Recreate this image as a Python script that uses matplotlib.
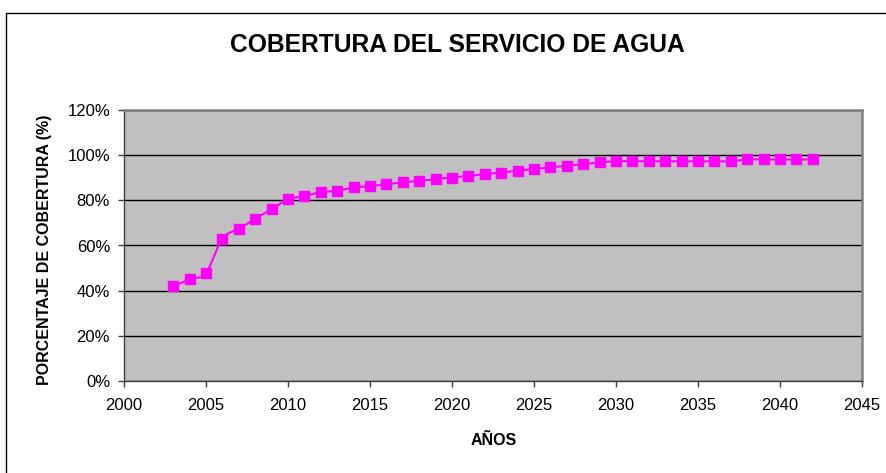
import numpy as np
import matplotlib
matplotlib.use("Agg")
import matplotlib.pyplot as plt
from matplotlib.patches import Rectangle
from matplotlib.ticker import FuncFormatter, MultipleLocator

plt.rcParams['font.family'] = ['Liberation Sans', 'DejaVu Sans']

years = list(range(2003, 2043))
coverage = [42, 45, 48, 63, 67.4, 71.8, 76.1, 80.4, 82, 83.6, 84.2, 85.7,
            86.3, 87.2, 87.9, 88.6, 89.4, 90.1, 90.8, 91.6, 92.3, 93.1, 93.8,
            94.6, 95.3, 96.0, 96.8,
            97.3, 97.3, 97.3, 97.3, 97.3, 97.3, 97.3, 97.3,
            98.1, 98.1, 98.1, 98.1, 98.1]
title = "COBERTURA DEL SERVICIO DE AGUA"
xlabel = "AÑOS"
ylabel = "PORCENTAJE DE COBERTURA (%)"


def smooth(x, y, n=12):
    # Catmull-Rom style smoothing (like Excel's smoothed line)
    x = np.asarray(x, float); y = np.asarray(y, float)
    px = np.concatenate([[2 * x[0] - x[1]], x, [2 * x[-1] - x[-2]]])
    py = np.concatenate([[2 * y[0] - y[1]], y, [2 * y[-1] - y[-2]]])
    xs, ys = [], []
    t = np.linspace(0, 1, n, endpoint=False)
    for i in range(1, len(px) - 2):
        for arr, out in ((px, xs), (py, ys)):
            p0, p1, p2, p3 = arr[i - 1], arr[i], arr[i + 1], arr[i + 2]
            c = 0.5 * ((2 * p1) + (-p0 + p2) * t + (2 * p0 - 5 * p1 + 4 * p2 - p3) * t ** 2
                       + (-p0 + 3 * p1 - 3 * p2 + p3) * t ** 3)
            out.extend(c)
    xs.append(x[-1]); ys.append(y[-1])
    return np.array(xs), np.array(ys)


W, H = 887, 473
fig = plt.figure(figsize=(W / 100, H / 100), dpi=100)
fig.patch.set_facecolor('white')
fig.add_artist(Rectangle((6.5 / W, -0.01), (W) / W, (H - 13) / H + 0.01, transform=fig.transFigure,
                         fill=False, edgecolor='black', linewidth=1.0))

ax = fig.add_axes([124 / W, 1 - 381 / H, (862 - 124) / W, (381 - 110) / H])
ax.set_facecolor('#C0C0C0')

sx, sy = smooth(years, coverage)
ax.plot(sx, sy, color='#FF00FF', linewidth=1.5, zorder=3)
ax.plot(years, coverage, linestyle='none', marker='s', markersize=6.5,
        color='#FF00FF', markeredgecolor='#FF00FF', zorder=4, clip_on=False)

ax.set_xlim(2000, 2045)
ax.set_ylim(0, 120)
ax.xaxis.set_major_locator(MultipleLocator(5))
ax.yaxis.set_major_locator(MultipleLocator(20))
ax.yaxis.set_major_formatter(FuncFormatter(lambda v, p: f"{int(round(v))}%"))
ax.grid(axis='y', color='black', linewidth=1.0)
ax.set_axisbelow(True)
for s in ax.spines.values():
    s.set_color('#808080')
    s.set_linewidth(1.8)
ax.spines['left'].set_color('#404040')
ax.spines['left'].set_linewidth(1.0)
ax.spines['bottom'].set_color('#404040')
ax.spines['bottom'].set_linewidth(1.0)
ax.tick_params(direction='out', length=4, width=1, color='#404040', pad=5)
ax.tick_params(axis='x', labelsize=12, pad=8)
ax.tick_params(axis='y', labelsize=12, pad=6)

fig.text(457 / W, 1 - 45 / H, title, fontsize=17.7, fontweight='bold', ha='center', va='center')
fig.text(494 / W, 1 - 440 / H, xlabel, fontsize=11.5, fontweight='bold', ha='center', va='center')
fig.text(45 / W, 1 - 250 / H, ylabel, fontsize=11.5, fontweight='bold', ha='center', va='center',
         rotation=90)

fig.savefig("out.png", dpi=100)
